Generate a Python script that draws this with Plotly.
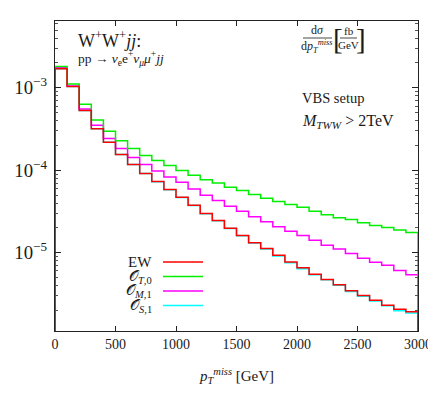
import plotly.graph_objects as go

# ---------------- data ----------------
bin_left_edges = [i * 100 for i in range(30)]  # GeV
x_max = 3000
floor_value = 1e-7  # histogram closing level (below the visible range)

ew = [1.70e-3, 1.04e-3, 5.31e-4, 3.19e-4, 2.18e-4, 1.55e-4, 1.17e-4, 9.1e-5, 7.28e-5, 5.82e-5,
      4.70e-5, 3.76e-5, 2.98e-5, 2.46e-5, 1.98e-5, 1.61e-5, 1.32e-5, 1.12e-5, 9.33e-6, 7.71e-6,
      6.56e-6, 5.49e-6, 4.74e-6, 4.09e-6, 3.46e-6, 3.03e-6, 2.64e-6, 2.31e-6, 2.06e-6, 1.92e-6]
ot0 = [1.81e-3, 1.11e-3, 6.31e-4, 4.06e-4, 2.96e-4, 2.28e-4, 1.83e-4, 1.51e-4, 1.31e-4, 1.14e-4,
       9.9e-5, 8.67e-5, 7.69e-5, 7.02e-5, 6.21e-5, 5.66e-5, 5.07e-5, 4.57e-5, 4.17e-5, 3.84e-5,
       3.56e-5, 3.18e-5, 2.88e-5, 2.65e-5, 2.52e-5, 2.30e-5, 2.13e-5, 2.02e-5, 1.89e-5, 1.76e-5]
om1 = [1.75e-3, 1.05e-3, 5.52e-4, 3.50e-4, 2.43e-4, 1.83e-4, 1.43e-4, 1.17e-4, 9.76e-5, 8.30e-5,
       7.14e-5, 5.94e-5, 4.97e-5, 4.29e-5, 3.66e-5, 3.18e-5, 2.72e-5, 2.37e-5, 2.06e-5, 1.82e-5,
       1.61e-5, 1.41e-5, 1.23e-5, 1.11e-5, 9.8e-6, 8.58e-6, 7.67e-6, 7.06e-6, 6.09e-6, 5.40e-6]
os1 = [1.70e-3, 1.04e-3, 5.31e-4, 3.19e-4, 2.18e-4, 1.55e-4, 1.17e-4, 9.1e-5, 7.25e-5, 5.80e-5,
       4.68e-5, 3.74e-5, 2.96e-5, 2.44e-5, 1.96e-5, 1.60e-5, 1.31e-5, 1.11e-5, 9.1e-6, 7.55e-6,
       6.40e-6, 5.40e-6, 4.70e-6, 4.02e-6, 3.38e-6, 2.96e-6, 2.60e-6, 2.27e-6, 1.98e-6, 1.86e-6]

series_names = ["EW", "𝒪<sub><i>T</i>,0</sub>", "𝒪<sub><i>M</i>,1</sub>", "𝒪<sub><i>S</i>,1</sub>"]
series_colors = ["#ff0000", "#00ee00", "#ff00ff", "#00ffff"]
series_values = [ew, ot0, om1, os1]

x_ticks = [0, 500, 1000, 1500, 2000, 2500, 3000]

# ---------------- figure ----------------
# page is shown with the browser's default 8px body margin
OFF = 8
PLOT_L, PLOT_R, PLOT_T, PLOT_B = 55, 418, 21, 331   # plot frame in page pixels
W, H = 428, 378
L = PLOT_L - OFF
T = PLOT_T - OFF
R = (OFF + W) - PLOT_R
B = (OFF + H) - PLOT_B
pw, ph = PLOT_R - PLOT_L, PLOT_B - PLOT_T

def px(x):
    return (x - PLOT_L) / pw

def py(y):
    return (PLOT_B - y) / ph

FONT = "Liberation Serif"
TXT = "#1a1a1a"

fig = go.Figure()

draw_order = [3, 2, 1, 0]
for i in draw_order:
    vals = series_values[i]
    xs = [0] + bin_left_edges + [x_max, x_max]
    ys = [floor_value] + vals + [vals[-1], floor_value]
    fig.add_trace(go.Scatter(
        x=xs, y=ys, mode="lines", line=dict(color=series_colors[i], width=1.5, shape="hv"),
        showlegend=False, hoverinfo="skip"))

fig.update_layout(
    width=W, height=H,
    margin=dict(l=L, r=R, t=T, b=B, autoexpand=False),
    paper_bgcolor="white", plot_bgcolor="white",
    font=dict(family=FONT, size=14, color=TXT),
    showlegend=False,
)
fig.update_xaxes(
    range=[0, x_max], tickvals=x_ticks, ticks="inside", ticklen=5, tickcolor="#222",
    showline=True, linecolor="#222", linewidth=1, mirror="ticks", showgrid=False, zeroline=False,
    tickfont=dict(size=14, family=FONT), automargin=False, ticklabeloverflow="allow",
)
fig.update_yaxes(
    type="log", range=[-5.95, -2.19], dtick=1, exponentformat="power", showexponent="all",
    ticks="inside", ticklen=6, tickcolor="#222", ticklabelstandoff=4,
    minor=dict(ticks="inside", ticklen=3, tickcolor="#555", showgrid=False),
    showline=True, linecolor="#222", linewidth=1, mirror="ticks", showgrid=False, zeroline=False,
    tickfont=dict(size=15, family=FONT), automargin=False,
)

ann = []
def text(x, y, s, size=14, xanchor="center", yanchor="middle"):
    ann.append(dict(x=px(x), y=py(y), xref="paper", yref="paper", text=s, showarrow=False,
                    xanchor=xanchor, yanchor=yanchor, font=dict(size=size, family=FONT, color=TXT)))

# x-axis title
text(236, 376, "<i>p</i><sub><i>T</i></sub><sup><i>miss</i></sup> [GeV]", size=15)
# process labels
text(76, 39, "W<sup>+</sup>W<sup>+</sup><i>jj</i>:", size=18, xanchor="left")
text(76, 58, "pp → <i>ν</i><sub>e</sub>e<sup>+</sup><i>ν</i><sub><i>μ</i></sub><i>μ</i><sup>+</sup><i>jj</i>", size=13.5, xanchor="left")
# y-axis quantity (fraction)
text(317, 30, "d<i>σ</i>", size=12)
text(317, 46, "d<i>p</i><sub><i>T</i></sub><sup><i>miss</i></sup>", size=12)
text(348.5, 30.5, "fb", size=11)
text(348.5, 45.5, "GeV", size=11)
text(337.5, 39, "[", size=29)
text(361, 39, "]", size=29)
# setup labels
text(300, 98, "VBS setup", size=14.5, xanchor="left")
text(300, 121, "<i>M</i><sub><i>TWW</i></sub> > 2TeV", size=16, xanchor="left")

# legend (text on left, line sample on right)
legend_y = [262, 276.5, 291, 305.5]
shapes = []
for name, col, yy in zip(series_names, series_colors, legend_y):
    text(154, yy, name, size=15, xanchor="right")
    shapes.append(dict(type="line", xref="paper", yref="paper", x0=px(163), x1=px(203),
                       y0=py(yy), y1=py(yy), line=dict(color=col, width=1.5)))
# fraction bars
shapes.append(dict(type="line", xref="paper", yref="paper", x0=px(303), x1=px(332),
                   y0=py(38), y1=py(38), line=dict(color=TXT, width=0.8)))
shapes.append(dict(type="line", xref="paper", yref="paper", x0=px(340), x1=px(357),
                   y0=py(38), y1=py(38), line=dict(color=TXT, width=0.8)))

fig.update_layout(annotations=ann, shapes=shapes)
fig.write_html("out.html")
